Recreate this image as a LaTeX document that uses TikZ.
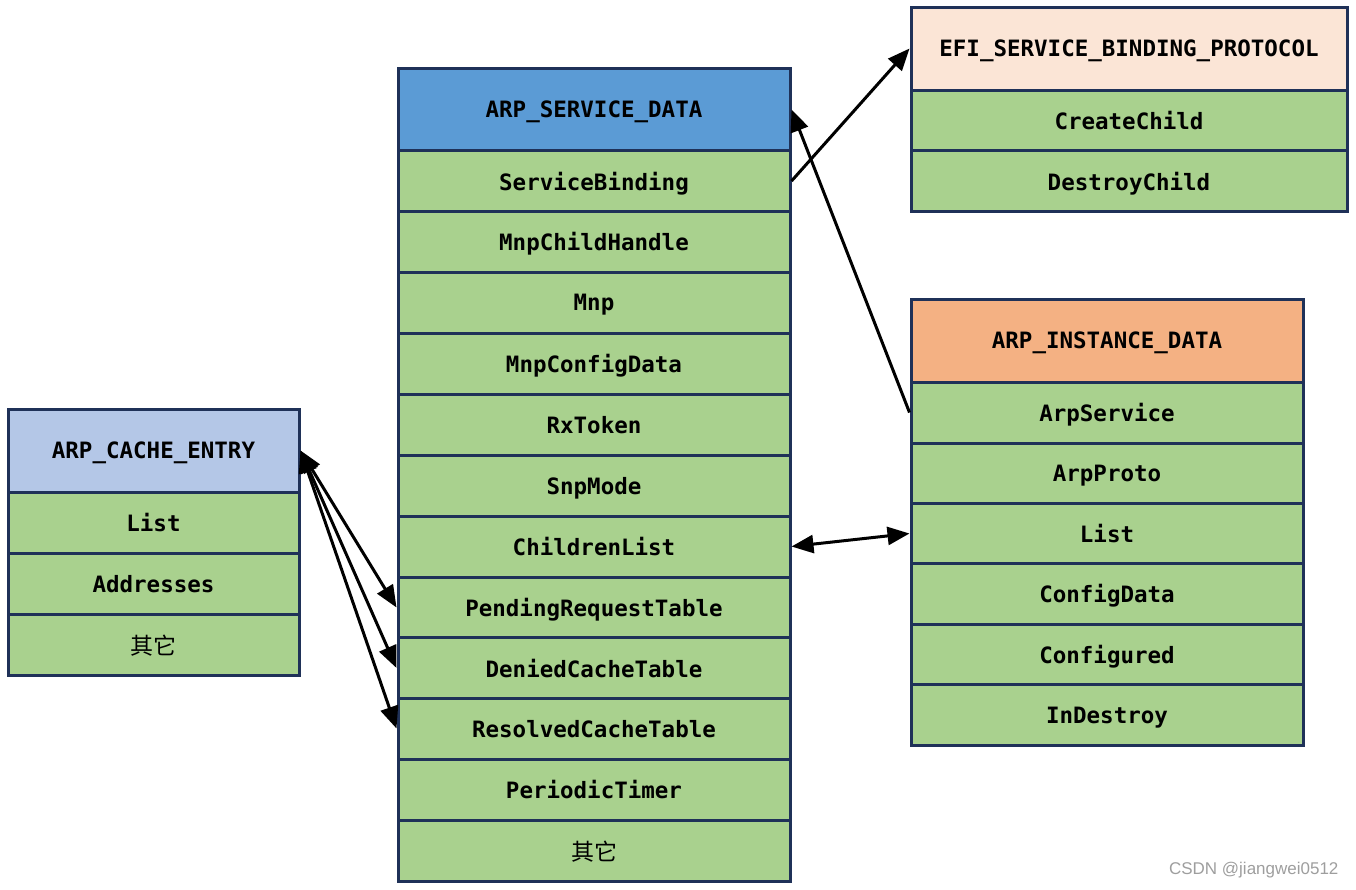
\documentclass[tikz,border=0pt]{standalone}
\usepackage{fontspec}
\setmonofont{DejaVu Sans Mono}
\newfontfamily\cjk{Noto Sans CJK SC}
\newfontfamily\wmfont{Liberation Sans}
\usetikzlibrary{arrows.meta}
\definecolor{navy}{HTML}{1F3158}
\definecolor{rowgreen}{HTML}{A9D18E}
\definecolor{hblue}{HTML}{5B9BD5}
\definecolor{hpeach}{HTML}{FBE5D6}
\definecolor{horange}{HTML}{F4B183}
\definecolor{hlblue}{HTML}{B4C7E7}
\tikzset{
  field/.style={draw=navy, line width=3pt, fill=rowgreen, inner sep=0pt,
    minimum height=61pt, text depth=0pt,
    font=\fontsize{22.5}{26}\selectfont\ttfamily\bfseries},
  head/.style={field, minimum height=83pt},
  tip/.tip={Triangle[length=22pt,width=18pt]},
  link/.style={line width=3pt, -tip},
  blink/.style={line width=3pt, tip-tip}
}
\newcommand{\qita}{{\cjk\mdseries\fontsize{23}{26}\selectfont 其它}}
\begin{document}
\begin{tikzpicture}[x=1pt,y=-1pt]
\useasboundingbox (0,0) rectangle (1356,889);
% ARP_SERVICE_DATA
\begin{scope}[every node/.append style={minimum width=392pt}]
\node[head, fill=hblue] (sd) at (594,109.5) {ARP\_SERVICE\_DATA};
\node[field] (sb) at (594,181) {ServiceBinding};
\node[field] (mch) at (594,241.5) {MnpChildHandle};
\node[field] (mnp) at (594,302.5) {Mnp};
\node[field] (mcd) at (594,363.5) {MnpConfigData};
\node[field] (rx) at (594,424.5) {RxToken};
\node[field] (snp) at (594,485.5) {SnpMode};
\node[field] (cl) at (594,546.5) {ChildrenList};
\node[field] (prt) at (594,607.5) {PendingRequestTable};
\node[field] (dct) at (594,668) {DeniedCacheTable};
\node[field] (rct) at (594,728.5) {ResolvedCacheTable};
\node[field] (pt) at (594,789.5) {PeriodicTimer};
\node[field] (sdo) at (594,850.5) {\qita};
\end{scope}
% EFI_SERVICE_BINDING_PROTOCOL
\begin{scope}[every node/.append style={minimum width=436pt}]
\node[head, fill=hpeach] (efi) at (1129,48.5) {EFI\_SERVICE\_BINDING\_PROTOCOL};
\node[field] (cc) at (1129,120.5) {CreateChild};
\node[field] (dc) at (1129,181) {DestroyChild};
\end{scope}
% ARP_INSTANCE_DATA
\begin{scope}[every node/.append style={minimum width=392pt}]
\node[head, fill=horange] (id) at (1107,340.5) {ARP\_INSTANCE\_DATA};
\node[field] (as) at (1107,412.5) {ArpService};
\node[field] (ap) at (1107,473.5) {ArpProto};
\node[field] (il) at (1107,533.5) {List};
\node[field] (icd) at (1107,593.5) {ConfigData};
\node[field] (icf) at (1107,654.5) {Configured};
\node[field] (ide) at (1107,715) {InDestroy};
\end{scope}
% ARP_CACHE_ENTRY
\begin{scope}[every node/.append style={minimum width=291pt}]
\node[head, fill=hlblue] (ce) at (153.5,450.5) {ARP\_CACHE\_ENTRY};
\node[field] (cel) at (153.5,522.5) {List};
\node[field] (cea) at (153.5,583.5) {Addresses};
\node[field] (ceo) at (153.5,644.5) {\qita};
\end{scope}
% connectors
\draw[link] (sb.east) -- (efi.west);
\draw[link] (as.west) -- (sd.east);
\draw[blink] (cl.east) -- (il.west);
\draw[blink] (ce.east) -- (prt.west);
\draw[blink] (ce.east) -- (dct.west);
\draw[blink] (ce.east) -- (rct.west);
% watermark
\node[font=\fontsize{17}{19}\selectfont\wmfont, text=black!38, anchor=east] (wm) at (1342,870) {CSDN @jiangwei0512};
\end{tikzpicture}
\end{document}
